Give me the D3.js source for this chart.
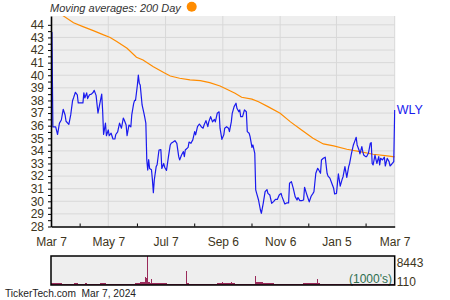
<!DOCTYPE html>
<html>
<head>
<meta charset="utf-8">
<script src="https://cdn.jsdelivr.net/npm/d3@7"></script>
<style>
body { margin: 0; background: #fff; }
svg { display: block; font-family: "Liberation Sans", Arial, sans-serif; }
</style>
</head>
<body>
<svg id="chart"></svg>
<script>
// WLY closing price
const wlyClose = [
  ["2023-03-07", 43.45], ["2023-03-08", 43.4], ["2023-03-09", 35.9], ["2023-03-12", 35.9], ["2023-03-14", 35.3],
  ["2023-03-16", 36.2], ["2023-03-18", 36.45], ["2023-03-20", 37.3], ["2023-03-22", 36.85], ["2023-03-23", 36.35],
  ["2023-03-26", 36.1], ["2023-03-28", 36.85], ["2023-03-30", 38.0], ["2023-03-31", 38.2], ["2023-04-02", 38.65],
  ["2023-04-04", 38.45], ["2023-04-05", 37.8], ["2023-04-08", 37.8], ["2023-04-10", 37.8], ["2023-04-11", 38.6],
  ["2023-04-12", 38.2], ["2023-04-14", 38.6], ["2023-04-15", 38.15], ["2023-04-17", 38.45], ["2023-04-19", 38.5],
  ["2023-04-21", 38.65], ["2023-04-22", 38.8], ["2023-04-24", 38.4], ["2023-04-26", 37.0], ["2023-04-28", 37.75],
  ["2023-04-30", 38.5], ["2023-05-01", 37.17], ["2023-05-02", 35.3], ["2023-05-04", 36.2], ["2023-05-05", 35.2],
  ["2023-05-07", 35.66], ["2023-05-08", 35.2], ["2023-05-10", 35.4], ["2023-05-12", 34.94], ["2023-05-14", 34.94],
  ["2023-05-15", 35.3], ["2023-05-17", 35.5], ["2023-05-19", 36.2], ["2023-05-21", 35.8], ["2023-05-23", 36.6],
  ["2023-05-24", 36.45], ["2023-05-26", 36.05], ["2023-05-27", 35.2], ["2023-05-29", 36.05], ["2023-05-31", 35.9],
  ["2023-06-01", 36.85], ["2023-06-03", 37.75], ["2023-06-04", 38.0], ["2023-06-05", 38.0], ["2023-06-07", 39.23],
  ["2023-06-08", 40.02], ["2023-06-09", 39.37], ["2023-06-10", 39.23], ["2023-06-12", 37.64], ["2023-06-14", 36.98],
  ["2023-06-15", 36.6], ["2023-06-16", 36.2], ["2023-06-17", 33.28], ["2023-06-18", 32.48], ["2023-06-19", 33.3],
  ["2023-06-20", 32.6], ["2023-06-22", 32.5], ["2023-06-23", 31.7], ["2023-06-24", 30.68], ["2023-06-25", 31.7],
  ["2023-06-27", 32.75], ["2023-06-28", 32.9], ["2023-06-30", 34.07], ["2023-07-02", 34.1], ["2023-07-03", 32.6],
  ["2023-07-05", 33.0], ["2023-07-06", 32.7], ["2023-07-08", 32.45], ["2023-07-10", 33.5], ["2023-07-12", 34.47],
  ["2023-07-13", 34.6], ["2023-07-15", 34.7], ["2023-07-17", 34.81], ["2023-07-19", 34.6], ["2023-07-21", 33.54],
  ["2023-07-22", 33.28], ["2023-07-24", 33.67], ["2023-07-26", 33.94], ["2023-07-27", 33.54], ["2023-07-28", 34.07],
  ["2023-07-31", 34.28], ["2023-08-01", 34.7], ["2023-08-03", 34.6], ["2023-08-05", 34.87], ["2023-08-07", 35.53],
  ["2023-08-08", 35.27], ["2023-08-10", 35.92], ["2023-08-12", 36.13], ["2023-08-14", 35.92], ["2023-08-16", 35.8],
  ["2023-08-17", 36.05], ["2023-08-19", 36.4], ["2023-08-21", 35.92], ["2023-08-22", 36.3], ["2023-08-24", 36.72],
  ["2023-08-26", 36.3], ["2023-08-28", 36.5], ["2023-08-29", 36.3], ["2023-08-31", 36.98], ["2023-09-02", 37.1],
  ["2023-09-03", 35.8], ["2023-09-05", 34.92], ["2023-09-07", 35.27], ["2023-09-08", 35.8], ["2023-09-10", 35.92],
  ["2023-09-12", 35.8], ["2023-09-13", 35.53], ["2023-09-15", 36.3], ["2023-09-16", 36.98], ["2023-09-18", 37.51],
  ["2023-09-20", 37.78], ["2023-09-21", 37.38], ["2023-09-23", 37.1], ["2023-09-24", 37.25], ["2023-09-25", 36.72],
  ["2023-09-27", 36.72], ["2023-09-29", 37.25], ["2023-10-01", 37.1], ["2023-10-02", 35.53], ["2023-10-04", 35.4],
  ["2023-10-05", 35.13], ["2023-10-07", 34.28], ["2023-10-08", 34.47], ["2023-10-10", 33.81], ["2023-10-11", 30.9],
  ["2023-10-12", 30.63], ["2023-10-14", 30.1], ["2023-10-16", 29.31], ["2023-10-17", 29.05], ["2023-10-19", 29.84],
  ["2023-10-21", 30.76], ["2023-10-23", 30.93], ["2023-10-24", 30.63], ["2023-10-26", 30.5], ["2023-10-28", 29.84],
  ["2023-10-30", 29.97], ["2023-11-01", 30.15], ["2023-11-03", 30.15], ["2023-11-05", 30.5], ["2023-11-07", 30.63],
  ["2023-11-08", 30.37], ["2023-11-11", 29.79], ["2023-11-13", 29.87], ["2023-11-15", 29.87], ["2023-11-16", 31.43],
  ["2023-11-18", 31.56], ["2023-11-20", 31.03], ["2023-11-22", 30.37], ["2023-11-24", 30.1], ["2023-11-25", 30.3],
  ["2023-11-27", 30.05], ["2023-11-29", 30.05], ["2023-12-01", 30.1], ["2023-12-02", 31.11], ["2023-12-04", 30.63],
  ["2023-12-05", 30.4], ["2023-12-07", 29.95], ["2023-12-09", 30.4], ["2023-12-11", 30.63], ["2023-12-12", 30.76],
  ["2023-12-14", 32.22], ["2023-12-16", 32.62], ["2023-12-17", 32.5], ["2023-12-19", 32.22], ["2023-12-20", 33.28],
  ["2023-12-22", 33.41], ["2023-12-24", 33.5], ["2023-12-26", 32.22], ["2023-12-27", 32.0], ["2023-12-29", 31.84],
  ["2023-12-31", 31.43], ["2024-01-02", 31.03], ["2024-01-03", 30.58], ["2024-01-05", 30.63], ["2024-01-07", 32.17],
  ["2024-01-09", 31.21], ["2024-01-11", 31.74], ["2024-01-12", 31.95], ["2024-01-14", 32.75], ["2024-01-16", 31.9],
  ["2024-01-18", 32.75], ["2024-01-19", 33.0], ["2024-01-21", 33.81], ["2024-01-23", 34.47], ["2024-01-25", 34.87],
  ["2024-01-26", 35.08], ["2024-01-27", 34.47], ["2024-01-29", 34.07], ["2024-01-30", 33.76], ["2024-02-01", 34.34],
  ["2024-02-02", 33.94], ["2024-02-03", 33.67], ["2024-02-05", 33.54], ["2024-02-06", 33.54], ["2024-02-08", 33.81],
  ["2024-02-10", 34.6], ["2024-02-11", 34.65], ["2024-02-12", 33.0], ["2024-02-13", 32.88], ["2024-02-15", 33.67],
  ["2024-02-17", 33.0], ["2024-02-19", 33.54], ["2024-02-20", 32.88], ["2024-02-21", 33.41], ["2024-02-23", 33.28],
  ["2024-02-25", 33.5], ["2024-02-26", 32.8], ["2024-02-28", 33.41], ["2024-03-01", 33.15], ["2024-03-02", 32.8],
  ["2024-03-04", 32.96], ["2024-03-06", 33.15], ["2024-03-07", 37.25]
];

// 200 day moving average
const ma200 = [
  ["2023-03-07", 45.35], ["2023-03-20", 44.71], ["2023-03-31", 44.17], ["2023-04-10", 43.86], ["2023-04-21", 43.54],
  ["2023-05-02", 43.2], ["2023-05-09", 43.0], ["2023-05-16", 42.67], ["2023-05-27", 42.14], ["2023-06-06", 41.43],
  ["2023-06-13", 41.21], ["2023-06-24", 40.68], ["2023-07-05", 40.21], ["2023-07-12", 39.94], ["2023-07-22", 39.76],
  ["2023-08-02", 39.63], ["2023-08-13", 39.57], ["2023-08-23", 39.41], ["2023-09-03", 39.15], ["2023-09-08", 38.97],
  ["2023-09-19", 38.57], ["2023-09-26", 38.25], ["2023-10-07", 38.1], ["2023-10-14", 37.9], ["2023-10-24", 37.51],
  ["2023-11-06", 36.98], ["2023-11-17", 36.3], ["2023-11-27", 35.75], ["2023-12-11", 35.0], ["2023-12-22", 34.55],
  ["2024-01-02", 34.39], ["2024-01-16", 34.13], ["2024-01-30", 33.94], ["2024-02-13", 33.73], ["2024-02-28", 33.6],
  ["2024-03-07", 33.52]
];

// volume in thousands (step values)
const volume = [
  ["2023-03-07", 450], ["2023-03-09", 620], ["2023-03-13", 520], ["2023-03-19", 400], ["2023-03-27", 380],
  ["2023-04-01", 500], ["2023-04-05", 380], ["2023-04-12", 480], ["2023-04-14", 380], ["2023-04-28", 680],
  ["2023-05-03", 600], ["2023-05-05", 400], ["2023-05-19", 380], ["2023-06-04", 600], ["2023-06-10", 780],
  ["2023-06-15", 2400], ["2023-06-16", 2100], ["2023-06-17", 8443], ["2023-06-18", 900], ["2023-06-19", 970],
  ["2023-06-20", 500], ["2023-06-22", 1650], ["2023-06-23", 500], ["2023-07-04", 680], ["2023-07-09", 390],
  ["2023-07-29", 4170], ["2023-07-30", 580], ["2023-08-01", 390], ["2023-08-31", 485], ["2023-09-05", 870],
  ["2023-09-06", 485], ["2023-09-15", 780], ["2023-09-16", 485], ["2023-09-19", 390], ["2023-10-10", 2620],
  ["2023-10-11", 780], ["2023-10-19", 580], ["2023-10-31", 330], ["2023-11-13", 390], ["2023-11-30", 680],
  ["2023-12-15", 1650], ["2023-12-16", 680], ["2023-12-18", 390], ["2024-03-06", 390], ["2024-03-07", 600]
];

const tickDates = ["2023-03-07", "2023-05-07", "2023-07-07", "2023-09-06", "2023-11-06", "2024-01-05", "2024-03-07"];
const tickLabels = ["Mar 7", "May 7", "Jul 7", "Sep 6", "Nov 6", "Jan 5", "Mar 7"];
const volTicks = [8443, 110];

const size = {w: 450, h: 300};
const plot = {l: 51, r: 394.7, t: 16, b: 226.5};
const vol = {t: 256, b: 285};
const textColor = '#3d3520';

const parse = d3.timeParse('%Y-%m-%d');
const price = wlyClose.map(d => ({date: parse(d[0]), value: d[1]}));
const avg = ma200.map(d => ({date: parse(d[0]), value: d[1]}));
const volData = volume.map(d => ({date: parse(d[0]), value: d[1]}));
const majors = tickDates.map(parse);
const minors = d3.pairs(majors).map(p => new Date((+p[0] + +p[1]) / 2));

const svg = d3.select('svg#chart')
    .attr('width', size.w)
    .attr('height', size.h);

const x = d3.scaleTime()
    .domain([majors[0], majors[majors.length - 1]])
    .range([plot.l, plot.r]);
const y = d3.scaleLinear()
    .domain([28, 44.7])
    .range([plot.b, plot.t]);
const vy = d3.scaleLinear()
    .domain([0, 8443])
    .range([vol.b, vol.t]);

// title + legend dot
svg.append('text')
    .attr('x', 50).attr('y', 11.7)
    .attr('font-size', 11)
    .attr('font-style', 'italic')
    .attr('fill', '#333')
    .text('Moving averages: 200 Day');
svg.append('circle')
    .attr('cx', 191.7).attr('cy', 6.7).attr('r', 5)
    .attr('fill', '#ff8c00');

// plot background
svg.append('rect')
    .attr('x', plot.l).attr('y', plot.t)
    .attr('width', plot.r - plot.l).attr('height', plot.b - plot.t)
    .attr('fill', '#eeeeee');

const grid = svg.append('g').attr('stroke', '#d8d8d8').attr('stroke-width', 1);
grid.selectAll('line.h')
    .data(d3.range(29, 45))
    .join('line')
    .attr('class', 'h')
    .attr('x1', plot.l).attr('x2', plot.r)
    .attr('y1', d => y(d)).attr('y2', d => y(d));
grid.selectAll('line.v')
    .data(majors.slice(1))
    .join('line')
    .attr('class', 'v')
    .attr('x1', d => x(d)).attr('x2', d => x(d))
    .attr('y1', plot.t).attr('y2', plot.b);

svg.append('clipPath').attr('id', 'clip')
    .append('rect')
    .attr('x', plot.l).attr('y', plot.t)
    .attr('width', plot.r - plot.l + 1).attr('height', plot.b - plot.t);

const line = d3.line()
    .x(d => x(d.date))
    .y(d => y(d.value));

const lines = svg.append('g').attr('clip-path', 'url(#clip)').attr('fill', 'none');
lines.append('path')
    .attr('d', line(avg))
    .attr('stroke', '#ff8c00')
    .attr('stroke-width', 1.2);
lines.append('path')
    .attr('d', line(price))
    .attr('stroke', '#1a1aee')
    .attr('stroke-width', 1.2)
    .attr('stroke-linejoin', 'round');

// left axis
const yAxis = svg.append('g')
    .attr('transform', `translate(${plot.l},0)`)
    .call(d3.axisLeft(y)
        .tickValues(d3.range(28, 44.01, 0.5))
        .tickSize(3)
        .tickSizeOuter(0)
        .tickPadding(4)
        .tickFormat(d => Number.isInteger(d) ? d : ''));

// bottom axis
const xAxis = svg.append('g')
    .attr('transform', `translate(0,${plot.b})`)
    .call(d3.axisBottom(x)
        .tickValues(majors.concat(minors))
        .tickSize(-3)
        .tickSizeOuter(0)
        .tickPadding(10.7)
        .tickFormat(d => {
            let i = majors.findIndex(m => +m === +d);
            return i >= 0 ? tickLabels[i] : '';
        }));

[yAxis, xAxis].forEach(g => {
    g.select('.domain').attr('stroke', '#000').attr('stroke-width', 1.6);
    g.selectAll('.tick line').attr('stroke', '#000');
    g.selectAll('.tick text')
        .attr('font-size', 12)
        .attr('font-family', '"Liberation Sans", Arial, sans-serif')
        .attr('fill', textColor);
});
xAxis.selectAll('.tick')
    .filter(d => majors.some(m => +m === +d))
    .select('line').remove();

// ticker label
let last = price[price.length - 1];
svg.append('text')
    .attr('x', plot.r + 2).attr('y', y(last.value))
    .attr('dy', '0.33em')
    .attr('font-size', 12.5)
    .attr('fill', '#1a1aee')
    .text('WLY');

// volume panel
svg.append('rect')
    .attr('x', plot.l).attr('y', vol.t)
    .attr('width', plot.r - plot.l).attr('height', vol.b - vol.t)
    .attr('fill', '#eeeeee');

svg.append('path')
    .attr('d', d3.area()
        .x(d => x(d.date))
        .y0(vy(0))
        .y1(d => vy(d.value))
        .curve(d3.curveStepAfter)(volData))
    .attr('fill', '#9a2a5a')
    .attr('shape-rendering', 'crispEdges');

svg.append('text')
    .attr('x', 392).attr('y', 283.3)
    .attr('text-anchor', 'end')
    .attr('font-size', 12)
    .attr('fill', '#2f6f50')
    .text("(1000's)");

svg.append('rect')
    .attr('x', plot.l).attr('y', vol.t)
    .attr('width', plot.r - plot.l).attr('height', vol.b - vol.t)
    .attr('fill', 'none')
    .attr('stroke', '#000')
    .attr('stroke-width', 1.5);

svg.selectAll('text.vol')
    .data(volTicks)
    .join('text')
    .attr('class', 'vol')
    .attr('x', plot.r + 2)
    .attr('y', (d, i) => i === 0 ? vol.t + 10.7 : vol.b + 0.7)
    .attr('font-size', 12)
    .attr('fill', textColor)
    .text(d => d);

// footer
svg.append('text')
    .attr('x', 5).attr('y', 297.3)
    .attr('font-size', 10.2)
    .attr('fill', '#222')
    .style('white-space', 'pre')
    .text('TickerTech.com  Mar 7, 2024');
</script>
</body>
</html>
